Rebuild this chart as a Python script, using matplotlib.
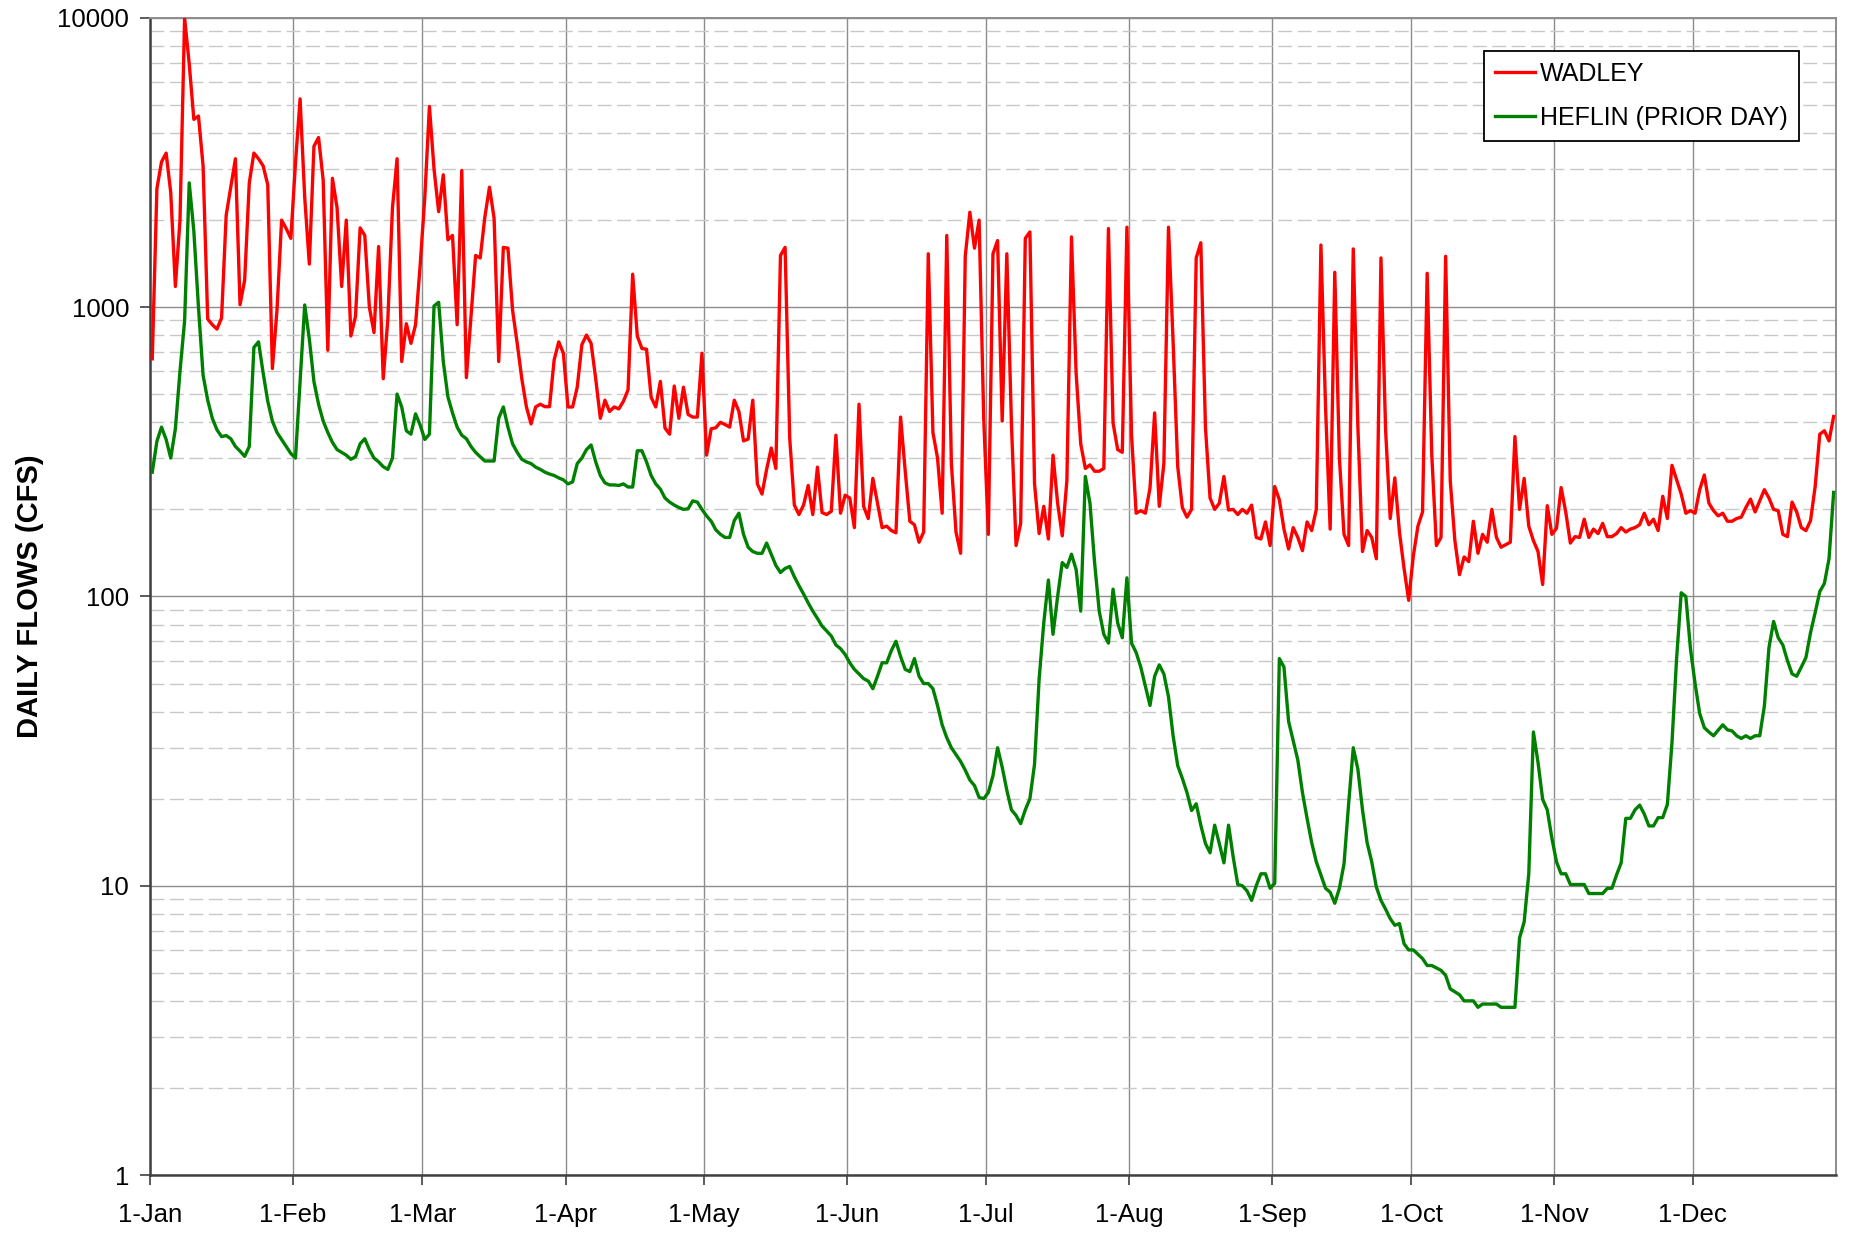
import numpy as np
import matplotlib
matplotlib.use("Agg")
import matplotlib.pyplot as plt
from matplotlib.ticker import LogLocator, NullFormatter

plt.rcParams['font.family'] = ['Liberation Sans', 'DejaVu Sans']

# daily flows, index 0 = 1-Jan
wadley = [
    663, 2570, 3180, 3410, 2490, 1180, 2000, 10000, 6940, 4460,
    4580, 3080, 910, 870, 840, 918, 2080, 2600, 3260, 1020,
    1240, 2690, 3410, 3260, 3080, 2650, 614, 977, 2000, 1870,
    1730, 3150, 5250, 2400, 1410, 3600, 3860, 2750, 710, 2790,
    2210, 1180, 2000, 795, 931, 1880, 1770, 1000, 817, 1620,
    566, 910, 2210, 3260, 649, 877, 750, 870, 1400, 2400,
    4940, 3000, 2140, 2870, 1710, 1770, 870, 2970, 571, 930,
    1510, 1480, 2050, 2600, 2030, 649, 1610, 1600, 977, 750,
    566, 452, 395, 452, 462, 453, 453, 657, 759, 693,
    452, 452, 529, 742, 801, 750, 566, 413, 477, 436,
    452, 445, 473, 518, 1300, 795, 720, 716, 488, 452,
    554, 382, 364, 534, 413, 529, 426, 417, 417, 693,
    308, 380, 383, 400, 393, 385, 477, 436, 345, 350,
    477, 245, 226, 275, 326, 277, 1510, 1610, 352, 207,
    192, 207, 242, 192, 280, 195, 192, 197, 361, 194,
    224, 219, 173, 462, 205, 186, 256, 210, 173, 175,
    169, 166, 417, 272, 182, 177, 154, 167, 1530, 369,
    301, 194, 1770, 288, 167, 141, 1500, 2130, 1600, 2000,
    413, 164, 1530, 1700, 404, 1530, 395, 150, 179, 1730,
    1820, 245, 165, 205, 158, 308, 210, 162, 251, 1750,
    593, 337, 277, 285, 271, 271, 277, 1870, 398, 322,
    315, 1890, 361, 194, 198, 194, 237, 431, 205, 288,
    1890, 759, 281, 203, 188, 200, 1480, 1670, 385, 219,
    200, 210, 260, 199, 200, 192, 200, 194, 207, 160,
    158, 181, 150, 240, 216, 171, 146, 173, 160, 144,
    181, 169, 200, 1640, 452, 171, 1320, 301, 164, 150,
    1590, 386, 143, 169, 160, 135, 1480, 377, 186, 257,
    167, 125, 97, 138, 175, 196, 1310, 308, 150, 160,
    1500, 251, 156, 119, 137, 132, 182, 141, 164, 154,
    200, 160, 148, 151, 154, 357, 200, 256, 175, 156,
    143, 110, 206, 164, 172, 238, 196, 153, 161, 160,
    185, 160, 171, 165, 179, 161, 161, 165, 173, 167,
    171, 173, 177, 194, 177, 185, 169, 222, 186, 284,
    253, 226, 194, 198, 194, 234, 263, 210, 198, 190,
    194, 182, 182, 186, 188, 203, 217, 196, 214, 234,
    219, 200, 198, 164, 161, 212, 196, 173, 169, 183,
    240, 364, 374, 345, 419,
]

heflin = [
    269, 344, 385, 349, 301, 380, 600, 897, 2690, 1830,
    1000, 582, 477, 413, 377, 357, 360, 351, 330, 318,
    305, 330, 726, 759, 593, 473, 404, 369, 349, 330,
    312, 301, 550, 1018, 776, 553, 462, 404, 369, 341,
    322, 315, 308, 298, 304, 337, 351, 322, 301, 292,
    281, 275, 301, 501, 452, 374, 364, 428, 391, 349,
    364, 1010, 1040, 649, 490, 431, 385, 361, 351, 330,
    315, 304, 294, 294, 294, 413, 452, 385, 337, 315,
    298, 292, 288, 280, 275, 269, 265, 262, 257, 253,
    245, 249, 288, 301, 322, 334, 292, 262, 247, 243,
    243, 242, 245, 239, 239, 319, 319, 292, 262, 245,
    235, 219, 212, 207, 203, 200, 201, 214, 212, 200,
    190, 182, 170, 164, 160, 160, 183, 194, 164, 148,
    143, 141, 141, 153, 140, 128, 121, 125, 127, 117,
    109, 102, 95, 89, 84, 79, 76, 73, 68, 66,
    63, 59, 56, 54, 52, 51, 48, 53, 59, 59,
    65, 70, 62, 56, 55, 61, 53, 50, 50, 48,
    42, 36, 32.5, 30, 28.4, 26.9, 25.1, 23.2, 22.2, 20.2,
    20.0, 21, 24, 30, 25.7, 21.4, 18.3, 17.5, 16.4, 18.3,
    20, 26.3, 52, 81, 114, 74, 100, 131, 126, 140,
    124, 89, 260, 210, 131, 89, 74, 69, 106, 81,
    72, 116, 69, 64, 57, 49, 42, 53, 58, 54,
    45, 33, 26, 23.5, 21, 18.2, 19.2, 16.2, 14, 13,
    16.2, 14, 12, 16.2, 12.6, 10.1, 10, 9.6, 8.9, 10,
    11, 11, 9.8, 10.2, 61, 57, 37, 31.7, 27.2, 21,
    17.1, 14.1, 12.1, 10.9, 9.8, 9.5, 8.7, 9.8, 11.9, 19.2,
    30, 25.3, 18.3, 14.1, 12.1, 9.9, 8.9, 8.3, 7.7, 7.3,
    7.4, 6.3, 6.0, 6.0, 5.8, 5.6, 5.3, 5.3, 5.2, 5.1,
    4.9, 4.4, 4.3, 4.2, 4.0, 4.0, 4.0, 3.8, 3.9, 3.9,
    3.9, 3.9, 3.8, 3.8, 3.8, 3.8, 6.6, 7.5, 11, 34,
    26.7, 19.9, 18.3, 14.6, 12.1, 11, 11, 10.1, 10.1, 10.1,
    10.1, 9.4, 9.4, 9.4, 9.4, 9.8, 9.8, 10.9, 12, 17.1,
    17.1, 18.3, 19, 17.7, 16.1, 16.1, 17.2, 17.2, 19.1, 31.2,
    61, 103, 100, 66, 50, 39.4, 35.2, 34, 33, 34.5,
    36, 34.6, 34.3, 33, 32.3, 33, 32.3, 33, 33, 41.8,
    66.6, 82, 72, 68, 60, 54, 53, 57, 61.5, 75,
    88, 104, 111, 135, 229,
]

month_start = [0, 31, 59, 90, 120, 151, 181, 212, 243, 273, 304, 334]
month_labels = ['1-Jan', '1-Feb', '1-Mar', '1-Apr', '1-May', '1-Jun',
                '1-Jul', '1-Aug', '1-Sep', '1-Oct', '1-Nov', '1-Dec']
y_ticks = [1, 10, 100, 1000, 10000]

# excel puts each day in the middle of its slot
days = np.arange(len(wadley)) + 0.5

fig = plt.figure(figsize=(18.56, 12.37), dpi=100)
ax = fig.add_axes([0.0808, 0.0501, 0.9084, 0.9354])

ax.plot(days, wadley, color='#ff0000', lw=2.4, label='WADLEY', zorder=3)
ax.plot(days, heflin, color='#008000', lw=2.4, label='HEFLIN (PRIOR DAY)', zorder=3)

ax.set_yscale('log')
ax.set_ylim(1, 10000)
ax.set_xlim(0, 365)

ax.set_yticks(y_ticks)
ax.set_yticklabels([str(v) for v in y_ticks])
ax.yaxis.set_minor_locator(LogLocator(base=10, subs=range(2, 10)))
ax.yaxis.set_minor_formatter(NullFormatter())
ax.set_xticks(month_start)
ax.set_xticklabels(month_labels)

ax.tick_params(axis='both', which='major', labelsize=18.5, length=7,
               width=1.2, color='#404040', direction='out')
ax.tick_params(axis='y', which='major', pad=8)
ax.tick_params(axis='x', which='major', pad=13.5)
ax.tick_params(axis='y', which='minor', length=0)

ax.grid(True, which='major', axis='both', color='#8c8c8c', lw=1.0, zorder=1)
ax.grid(True, which='minor', axis='y', color='#c8c8c8', lw=1.0,
        linestyle=(0, (10, 4)), zorder=1)
ax.set_axisbelow(True)

for side in ['left', 'bottom']:
    ax.spines[side].set_color('#404040')
    ax.spines[side].set_linewidth(1.8)
for side in ['top', 'right']:
    ax.spines[side].set_color('#8c8c8c')
    ax.spines[side].set_linewidth(1.4)

ax.set_ylabel('DAILY FLOWS (CFS)', fontsize=21, fontweight='bold')
ax.yaxis.set_label_coords(-0.063, 0.5)

leg = ax.legend(loc='upper right', bbox_to_anchor=(0.978, 0.9715),
                fontsize=18, frameon=True, fancybox=False, framealpha=1,
                edgecolor='black', borderpad=0.45, labelspacing=0.8,
                handlelength=1.6, handletextpad=0.2, borderaxespad=0)
leg.get_frame().set_linewidth(1.3)

fig.savefig('out.png', dpi=100)
